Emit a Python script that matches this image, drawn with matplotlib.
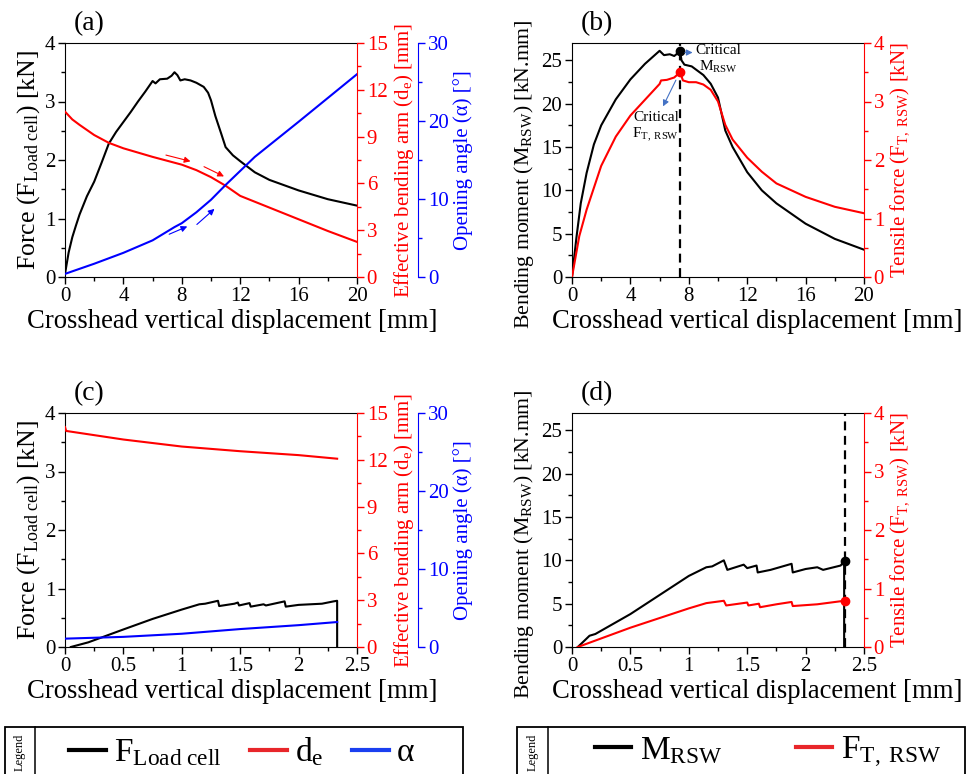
import matplotlib
matplotlib.use("Agg")
import matplotlib.pyplot as plt
from matplotlib.lines import Line2D
from matplotlib.patches import Rectangle
from matplotlib.ticker import AutoMinorLocator, MultipleLocator

plt.rcParams["font.family"] = ["Liberation Serif", "DejaVu Serif"]
plt.rcParams["mathtext.fontset"] = "custom"
plt.rcParams["mathtext.rm"] = "Liberation Serif"
plt.rcParams["mathtext.it"] = "Liberation Serif:italic"

# ---- (a) 20 mm test: load cell force, bending arm, opening angle
a_x_force = [0, 0.1, 0.25, 0.5, 0.75, 1, 1.5, 2, 2.5, 3, 3.5, 4, 4.5, 5, 5.5, 6.0, 6.2, 6.5, 7.0,
             7.3, 7.5, 7.7, 7.9, 8.2, 8.6, 9.0, 9.5, 9.8, 10.0, 10.3, 10.7, 11.0, 11.5, 12, 13, 14,
             16, 18, 20]
a_force = [0.05, 0.2, 0.42, 0.68, 0.88, 1.07, 1.38, 1.63, 1.95, 2.28, 2.48, 2.65, 2.82, 3.0, 3.17,
           3.35, 3.31, 3.38, 3.39, 3.44, 3.5, 3.45, 3.36, 3.38, 3.36, 3.32, 3.25, 3.15, 3.02, 2.75,
           2.45, 2.22, 2.08, 1.98, 1.79, 1.66, 1.48, 1.33, 1.22]
a_x_arm = [0, 0.5, 1, 2, 3, 4, 6, 8, 9, 10, 11, 12, 14, 16, 18, 20]
a_arm = [10.6, 10.1, 9.75, 9.1, 8.6, 8.25, 7.7, 7.2, 6.85, 6.4, 5.85, 5.2, 4.45, 3.7, 2.95, 2.25]
a_x_angle = [0, 2, 4, 6, 7.5, 8, 9, 10, 11, 12, 13, 16, 20]
a_angle = [0.4, 1.7, 3.1, 4.7, 6.4, 6.9, 8.3, 9.9, 11.8, 13.6, 15.4, 19.9, 26.0]

# ---- (b) 20 mm test: bending moment and tensile force
b_x_moment = [0, 0.3, 0.6, 1, 1.5, 2, 3, 4, 5, 6.0, 6.3, 6.7, 7.0, 7.3, 7.4, 7.5, 7.7, 8.2, 9.0,
              9.5, 10.0, 10.5, 11, 12, 13, 14, 16, 18, 20]
b_moment = [0, 4.5, 8.5, 12, 15.3, 17.5, 20.5, 22.8, 24.6, 26.1, 25.6, 25.7, 25.5, 25.9, 26.1, 25.0,
            24.5, 24.3, 23.3, 22.3, 20.7, 16.9, 15.0, 12.1, 10.0, 8.5, 6.15, 4.4, 3.15]
b_x_tensile = [0, 0.5, 1, 2, 3, 4, 5, 6, 6.1, 6.5, 7.0, 7.4, 7.6, 8.0, 8.5, 9.0, 9.5, 10.0, 10.5,
               11, 12, 13, 14, 16, 18, 20]
b_tensile = [0, 0.7, 1.15, 1.9, 2.4, 2.76, 3.03, 3.3, 3.36, 3.37, 3.41, 3.5, 3.36, 3.33, 3.33, 3.29,
             3.2, 3.0, 2.6, 2.35, 2.04, 1.8, 1.6, 1.37, 1.2, 1.09]
b_fail_x = 7.4
b_fail_moment = 26.1
b_fail_tensile = 3.5

# ---- (c) 2.5 mm test: load cell force, bending arm, opening angle
c_x_force = [0.05, 0.2, 0.5, 0.75, 1.0, 1.15, 1.2, 1.31, 1.32, 1.45, 1.48, 1.49, 1.58, 1.59, 1.7,
             1.72, 1.88, 1.89, 2.0, 2.1, 2.2, 2.3, 2.33, 2.33]
c_force = [0.0, 0.08, 0.3, 0.48, 0.64, 0.73, 0.74, 0.79, 0.70, 0.74, 0.76, 0.71, 0.75, 0.69, 0.73,
           0.71, 0.78, 0.69, 0.72, 0.73, 0.74, 0.78, 0.79, 0.0]
c_x_arm = [0, 0.01, 0.5, 1.0, 1.5, 2.0, 2.33]
c_arm = [14.1, 13.85, 13.3, 12.85, 12.55, 12.3, 12.07]
c_x_angle = [0, 0.5, 1.0, 1.5, 2.0, 2.33]
c_angle = [1.07, 1.3, 1.7, 2.3, 2.8, 3.2]

# ---- (d) 2.5 mm test: bending moment and tensile force
d_x_moment = [0.05, 0.15, 0.2, 0.5, 0.75, 1.0, 1.15, 1.2, 1.3, 1.33, 1.47, 1.5, 1.58, 1.59, 1.7,
              1.88, 1.89, 2.0, 2.1, 2.15, 2.3, 2.33, 2.33]
d_moment = [0, 1.3, 1.5, 3.8, 6.0, 8.2, 9.2, 9.3, 10.0, 8.9, 9.5, 9.1, 9.4, 8.6, 8.9, 9.6, 8.6, 9.0,
            9.2, 8.9, 9.4, 9.9, 0]
d_x_tensile = [0.05, 0.5, 1.0, 1.15, 1.3, 1.32, 1.5, 1.51, 1.6, 1.61, 1.75, 1.88, 1.89, 2.1, 2.33]
d_tensile = [0, 0.33, 0.66, 0.75, 0.79, 0.71, 0.76, 0.71, 0.74, 0.68, 0.73, 0.77, 0.70, 0.73, 0.79]
d_fail_x = 2.34
d_fail_moment = 9.9
d_fail_tensile = 0.79

W, H = 974, 774
TICK = 15
XLAB = 19.2
LW = 1.5
ARROW_BLUE = "#4472C4"


def style_axis(ax, color="black"):
    ax.tick_params(which="both", direction="out", labelsize=TICK, colors=color, pad=2)
    ax.tick_params(which="major", length=5, width=1)
    ax.tick_params(which="minor", length=3, width=1)
    ax.yaxis.set_minor_locator(AutoMinorLocator(2))


def make_axes(fig, left_px, top_px):
    ax = fig.add_axes([left_px / W, 1 - (top_px + 234) / H, 292 / W, 234 / H])
    ax.spines["right"].set_visible(False)
    style_axis(ax)
    ax.tick_params(top=False, right=False)
    ax.xaxis.set_minor_locator(AutoMinorLocator(2))
    return ax


def twin(ax, color, outward=0):
    t = ax.twinx()
    for s in ["left", "top", "bottom"]:
        t.spines[s].set_visible(False)
    t.spines["right"].set_color(color)
    if outward:
        t.spines["right"].set_position(("outward", outward))
    style_axis(t, color)
    return t


fig = plt.figure(figsize=(W / 100, H / 100), dpi=100)


def force_panel(ax, xf, f, xa, arm, xg, ang, xmax, xstep, letter):
    ax.plot(xf, f, color="black", lw=LW)
    ax.set_xlim(0, xmax)
    ax.set_ylim(0, 4)
    ax.xaxis.set_major_locator(MultipleLocator(xstep))
    ax.yaxis.set_major_locator(MultipleLocator(1))
    ax.set_ylabel(r"Force (F$_{\mathrm{Load\ cell}}$) [kN]", fontsize=18.5, labelpad=2)
    ax.set_xlabel("Crosshead vertical displacement [mm]", fontsize=XLAB, labelpad=0)
    ax.xaxis.set_label_coords(0.572, -0.135)
    ax.text(0.03, 1.03, letter, transform=ax.transAxes, fontsize=20, va="bottom")
    ax2 = twin(ax, "red")
    ax2.plot(xa, arm, color="red", lw=LW)
    ax2.set_ylim(0, 15)
    ax2.yaxis.set_major_locator(MultipleLocator(3))
    ax2.set_ylabel(r"Effective bending arm (d$_{\mathrm{e}}$) [mm]", fontsize=15,
                   color="red", labelpad=3)
    ax3 = twin(ax, "blue", outward=44)
    ax3.plot(xg, ang, color="blue", lw=LW)
    ax3.set_ylim(0, 30)
    ax3.yaxis.set_major_locator(MultipleLocator(10))
    ax3.set_ylabel("Opening angle (α) [°]", fontsize=15, color="blue", labelpad=3)
    return ax, ax2, ax3


def moment_panel(ax, xm, m, xt, t, xmax, xstep, fail_x, fm, ft, letter):
    ax.plot(xm, m, color="black", lw=LW)
    ax.axvline(fail_x, color="black", lw=1.6, ls=(0, (4, 2.5)))
    ax.plot([fail_x], [fm], "o", color="black", ms=6)
    ax.set_xlim(0, xmax)
    ax.set_ylim(0, 27)
    ax.xaxis.set_major_locator(MultipleLocator(xstep))
    ax.yaxis.set_major_locator(MultipleLocator(5))
    ax.set_ylabel(r"Bending moment (M$_{\mathrm{RSW}}$) [kN.mm]", fontsize=15.7, labelpad=3)
    ax.yaxis.set_label_coords(-0.125, 0.44)
    ax.set_xlabel("Crosshead vertical displacement [mm]", fontsize=XLAB, labelpad=0)
    ax.xaxis.set_label_coords(0.636, -0.135)
    ax.text(0.03, 1.03, letter, transform=ax.transAxes, fontsize=20, va="bottom")
    ax2 = twin(ax, "red")
    ax2.plot(xt, t, color="red", lw=LW)
    ax2.plot([fail_x], [ft], "o", color="red", ms=6)
    ax2.set_ylim(0, 4)
    ax2.yaxis.set_major_locator(MultipleLocator(1))
    ax2.set_ylabel(r"Tensile force (F$_{\mathrm{T,\ RSW}}$) [kN]", fontsize=15,
                   color="red", labelpad=3)
    return ax, ax2


# (a)
axa = make_axes(fig, 65, 43)
_, axa2, axa3 = force_panel(axa, a_x_force, a_force, a_x_arm, a_arm, a_x_angle, a_angle,
                            20, 4, "(a)")
arr_kw = dict(arrowstyle="-|>", lw=0.8, mutation_scale=9)
axa2.annotate("", xy=(8.78, 7.37), xytext=(6.73, 7.86), arrowprops=dict(color="red", **arr_kw))
axa2.annotate("", xy=(11.06, 6.37), xytext=(9.35, 7.15), arrowprops=dict(color="red", **arr_kw))
axa3.annotate("", xy=(8.55, 6.62), xytext=(6.96, 5.34), arrowprops=dict(color="blue", **arr_kw))
axa3.annotate("", xy=(10.38, 8.97), xytext=(8.89, 6.5), arrowprops=dict(color="blue", **arr_kw))

# (b)
axb = make_axes(fig, 572, 43)
moment_panel(axb, b_x_moment, b_moment, b_x_tensile, b_tensile, 20, 4,
             b_fail_x, b_fail_moment, b_fail_tensile, "(b)")
axb.annotate("", xy=(8.45, 25.9), xytext=(7.55, 25.9),
             arrowprops=dict(color=ARROW_BLUE, **arr_kw))
axb.text(10.05, 26.9, "Critical\n" + r"M$_{\mathrm{RSW}}$", fontsize=11, ha="center", va="top",
         linespacing=1.2)
axb.annotate("", xy=(6.15, 19.4), xytext=(7.2, 23.0),
             arrowprops=dict(color=ARROW_BLUE, **arr_kw))
axb.text(5.75, 19.2, "Critical\n" + r"F$_{\mathrm{T,\ RSW}}$", fontsize=11, ha="center", va="top",
         linespacing=1.2)

# (c)
axc = make_axes(fig, 65, 413)
force_panel(axc, c_x_force, c_force, c_x_arm, c_arm, c_x_angle, c_angle, 2.5, 0.5, "(c)")
axc.xaxis.set_major_formatter(plt.FuncFormatter(lambda v, p: f"{v:g}"))

# (d)
axd = make_axes(fig, 572, 413)
moment_panel(axd, d_x_moment, d_moment, d_x_tensile, d_tensile, 2.5, 0.5,
             d_fail_x, d_fail_moment, d_fail_tensile, "(d)")
axd.xaxis.set_major_formatter(plt.FuncFormatter(lambda v, p: f"{v:g}"))


# ---- legend boxes at the bottom
def legend_box(x0, x1, xdiv, handles, labels, xc, colspace):
    top = 1 - 727 / H
    fig.patches.append(Rectangle((x0 / W, -0.05), (x1 - x0) / W, top + 0.05,
                                 transform=fig.transFigure, fill=False, ec="black", lw=1.3))
    fig.lines.append(Line2D([xdiv / W, xdiv / W], [-0.05, top], transform=fig.transFigure,
                            color="black", lw=1.1))
    fig.text((x0 + xdiv) / 2 / W, 1 - 752 / H, "Legend", rotation=90, fontsize=9,
             ha="center", va="center")
    fig.legend(handles, labels, loc="center", bbox_to_anchor=(xc / W, 1 - 752 / H), ncol=len(labels),
               frameon=False, fontsize=24, handlelength=1.1, handletextpad=0.25,
               columnspacing=colspace, borderpad=0)


def proxy(c):
    return Line2D([], [], color=c, lw=3)


legend_box(5, 463, 35, [proxy("black"), proxy("#e8262a"), proxy("#1a3ff0")],
           [r"F$_{\mathrm{Load\ cell}}$", r"d$_{\mathrm{e}}$", "α"], 242, 0.85)
legend_box(517, 965, 548, [proxy("black"), proxy("#e8262a")],
           [r"M$_{\mathrm{RSW}}$", r"F$_{\mathrm{T,\ RSW}}$"], 768, 2.2)

fig.savefig("out.png", dpi=100, facecolor="white")
